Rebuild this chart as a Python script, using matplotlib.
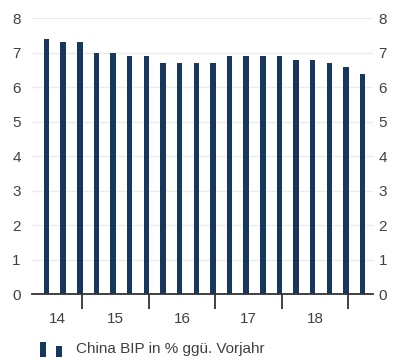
import numpy as np
import matplotlib
matplotlib.use('Agg')
import matplotlib.pyplot as plt
from matplotlib.legend_handler import HandlerBase
from matplotlib.patches import Rectangle

# China BIP, Veränderung ggü. Vorjahr in %, quartalsweise
gdp = [7.4, 7.3, 7.3, 7.0, 7.0, 6.9, 6.9, 6.7, 6.7, 6.7,
       6.7, 6.9, 6.9, 6.9, 6.9, 6.8, 6.8, 6.7, 6.6, 6.4]
years = ['14', '15', '16', '17', '18']
year_breaks = [2.15, 6.15, 10.15, 14.15, 18.15]  # jahreswechsel, in quartals-index
legend_label = 'China BIP in % ggü. Vorjahr'

bar_color = '#17375e'
text_color = '#404040'

plt.rcParams['font.family'] = ['Liberation Sans', 'DejaVu Sans']


class TwoBarHandler(HandlerBase):
    # kleines legenden-symbol aus zwei balken
    def create_artists(self, legend, orig_handle, xdescent, ydescent,
                       width, height, fontsize, trans):
        w = width * 0.26
        r1 = Rectangle((-xdescent, -ydescent - 3), w, height + 4,
                       facecolor=bar_color, edgecolor='none', transform=trans)
        r2 = Rectangle((-xdescent + width * 0.73, -ydescent - 3), w, height + 1,
                       facecolor=bar_color, edgecolor='none', transform=trans)
        return [r1, r2]


fig = plt.figure(figsize=(3.99, 3.6), dpi=100)
ax = fig.add_axes([0.080, 0.183, 0.855, 0.766])

x = np.arange(len(gdp))
bars = ax.bar(x, gdp, width=0.33, color=bar_color, zorder=3)

ax.set_xlim(-0.88, 19.63)
ax.set_ylim(0, 8)
ax.set_yticks(np.arange(0, 9, 1))
ax.yaxis.grid(True, color='#ebebeb', linewidth=1, zorder=0)
ax.tick_params(axis='y', length=0, labelsize=11, colors=text_color, pad=8)

# rechte skala mit denselben werten
ax2 = ax.twinx()
ax2.set_ylim(ax.get_ylim())
ax2.set_yticks(np.arange(0, 9, 1))
ax2.tick_params(axis='y', length=0, labelsize=11, colors=text_color, pad=4)
for side in ['left', 'right', 'top', 'bottom']:
    ax2.spines[side].set_visible(False)

# jahres-trennstriche und jahreszahlen in der mitte des sichtbaren jahres
lo, hi = ax.get_xlim()
edges = [lo] + year_breaks
label_pos = [(edges[i] + edges[i + 1]) / 2 for i in range(len(years))]
ax.set_xticks(year_breaks)
ax.set_xticklabels([''] * len(year_breaks))
ax.set_xticks(label_pos, minor=True)
ax.set_xticklabels(years, minor=True)
ax.tick_params(axis='x', which='major', length=11, width=1.3, color='#333333',
               direction='out')
ax.tick_params(axis='x', which='minor', length=0, pad=13, labelsize=11,
               colors=text_color)

for side in ['left', 'right', 'top']:
    ax.spines[side].set_visible(False)
ax.spines['bottom'].set_color('#333333')
ax.spines['bottom'].set_linewidth(1.3)
ax.spines['bottom'].set_zorder(4)

leg = fig.legend([bars], [legend_label], handler_map={type(bars): TwoBarHandler()},
                 loc='center left', bbox_to_anchor=(0.100, 0.030),
                 frameon=False, fontsize=11, handlelength=1.44, handleheight=0.6,
                 handletextpad=0.92, borderaxespad=0, borderpad=0)
for t in leg.get_texts():
    t.set_color(text_color)

fig.savefig('out.png', dpi=100)
